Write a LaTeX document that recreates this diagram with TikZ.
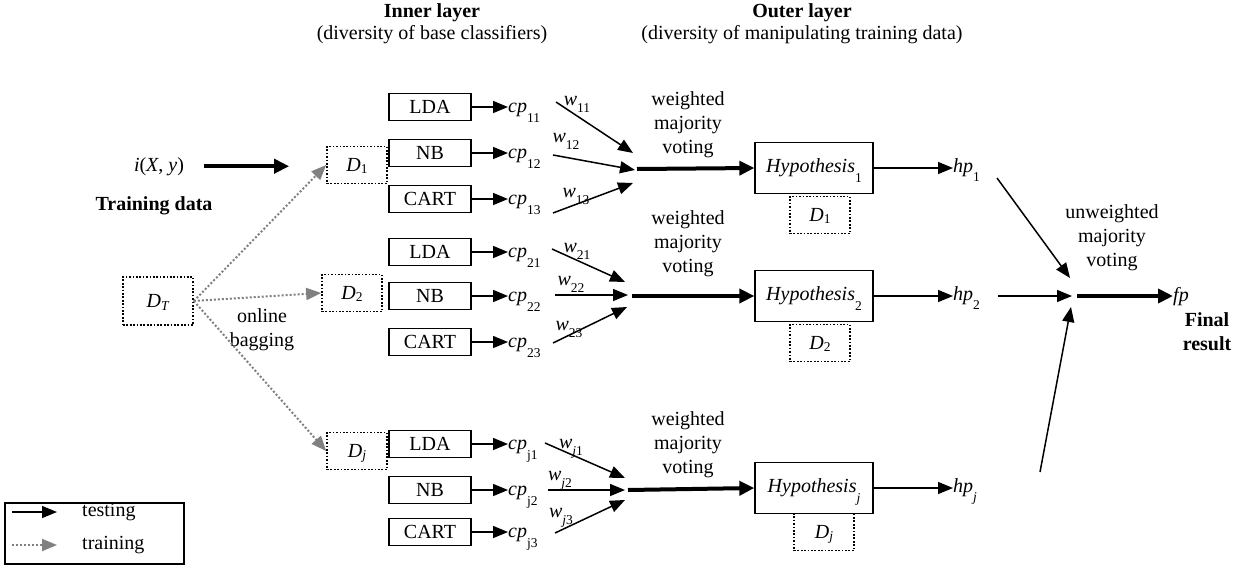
\documentclass[tikz,border=0pt]{standalone}
\usepackage{fontspec}
\setmainfont{Liberation Serif}
\usetikzlibrary{arrows.meta}
% lowered subscript that does not change the height of the line
\newcommand\lowsub[2]{\raisebox{#1}[0pt][0pt]{\fontsize{13.5}{14}\selectfont #2}}

\begin{document}
\begin{tikzpicture}[x=1pt, y=-1pt, font=\fontsize{20}{24}\selectfont,
  clf/.style={draw, line width=1.4pt, minimum width=82pt, minimum height=27pt, inner sep=0pt},
  dset/.style={draw, line width=1.7pt, dash pattern=on 1.7pt off 1.7pt, minimum width=60pt, minimum height=37pt, inner sep=0pt},
  hyp/.style={draw, line width=1.3pt, minimum width=118pt, minimum height=51pt, inner sep=0pt},
  txt/.style={inner sep=0pt, align=center},
  arr/.style={line width=1.5pt, -{Triangle[length=15pt,width=12pt]}},
  fat/.style={line width=4pt, -{Triangle[length=15pt,width=14pt]}},
  trn/.style={draw=gray, line width=2pt, dash pattern=on 2pt off 2pt, -{Triangle[length=15pt,width=12pt]}},
]
\useasboundingbox (0,0) rectangle (1241,570);

% headers
\node[txt, anchor=base] (innerT) at (432,17) {\textbf{Inner layer}};
\node[txt, anchor=base] (innerS) at (432,39) {(diversity of base classifiers)};
\node[txt, anchor=base] (outerT) at (802,17) {\textbf{Outer layer}};
\node[txt, anchor=base] (outerS) at (802,39) {(diversity of manipulating training data)};

% input and training data
\node[txt, anchor=base] (ixy) at (159,171) {\textit{i}(\textit{X}, \textit{y})};
\node[txt, anchor=base] (trdata) at (154,210) {\textbf{Training data}};
\node[dset, minimum width=70pt, minimum height=48pt] (DT) at (158,301) {\textit{D}\lowsub{-3pt}{\textit{T}}};
\node[txt] (bag) at (262,330) {online\\bagging};

% bootstrap data sets
\node[dset] (D1) at (357,165) {\textit{D}\lowsub{-1.5pt}{1}};
\node[dset] (D2) at (352,293) {\textit{D}\lowsub{-1.5pt}{2}};
\node[dset] (Dj) at (357,451) {\textit{D}\lowsub{-1.5pt}{\textit{j}}};

\draw[fat, shorten <=20pt, shorten >=37pt] (ixy.east) -- (ixy.east -| D1.west);
\draw[trn] (DT.east) -- (D1.west);
\draw[trn] (DT.east) -- (D2.west);
\draw[trn] (DT.east) -- (Dj.west);

% ---------- first ensemble ----------
\node[clf] (lda1) at (430,107) {LDA};
\node[clf] (nb1) at (430,153) {NB};
\node[clf] (cart1) at (430,199) {CART};
\node[txt, anchor=base west] (cp11) at (508,112) {\textit{cp}\lowsub{-10pt}{11}};
\node[txt, anchor=base west] (cp12) at (508,158) {\textit{cp}\lowsub{-10pt}{12}};
\node[txt, anchor=base west] (cp13) at (508,204) {\textit{cp}\lowsub{-10pt}{13}};
\draw[arr] (lda1.east) -- (lda1.east -| cp11.west);
\draw[arr] (nb1.east) -- (nb1.east -| cp12.west);
\draw[arr] (cart1.east) -- (cart1.east -| cp13.west);
\coordinate (s11) at (556,102); \coordinate (e11) at (633,153);
\coordinate (s12) at (553,155); \coordinate (e12) at (635,170);
\coordinate (s13) at (553,213); \coordinate (e13) at (633,183);
\draw[arr] (s11) -- (e11);
\draw[arr] (s12) -- (e12);
\draw[arr] (s13) -- (e13);
\node[txt, anchor=base] (w11) at (577,105) {\textit{w}\lowsub{-7pt}{11}};
\node[txt, anchor=base] (w12) at (566,142) {\textit{w}\lowsub{-7pt}{12}};
\node[txt, anchor=base] (w13) at (576,197) {\textit{w}\lowsub{-7pt}{13}};
\coordinate (m1) at (637,169);
\node[txt] (vote1) at (688,125) {weighted\\majority\\voting};
\node[hyp] (hyp1) at (814,168) {\textit{Hypothesis}\lowsub{-10pt}{1}};
\node[dset] (Dh1) at (820,215) {\textit{D}\lowsub{-1.5pt}{1}};
\draw[fat] (m1) -- (hyp1.west);
\node[txt, anchor=base west] (hp1) at (953,172) {\textit{hp}\lowsub{-9pt}{1}};
\draw[arr] (hyp1.east) -- (hyp1.east -| hp1.west);

% ---------- second ensemble ----------
\node[clf] (lda2) at (430,252) {LDA};
\node[clf] (nb2) at (430,296) {NB};
\node[clf] (cart2) at (430,342) {CART};
\node[txt, anchor=base west] (cp21) at (508,257) {\textit{cp}\lowsub{-10pt}{21}};
\node[txt, anchor=base west] (cp22) at (508,301) {\textit{cp}\lowsub{-10pt}{22}};
\node[txt, anchor=base west] (cp23) at (508,347) {\textit{cp}\lowsub{-10pt}{23}};
\draw[arr] (lda2.east) -- (lda2.east -| cp21.west);
\draw[arr] (nb2.east) -- (nb2.east -| cp22.west);
\draw[arr] (cart2.east) -- (cart2.east -| cp23.west);
\coordinate (s21) at (552,249); \coordinate (e21) at (625,282);
\coordinate (s22) at (555,295); \coordinate (e22) at (628,295);
\coordinate (s23) at (553,343); \coordinate (e23) at (627,307);
\draw[arr] (s21) -- (e21);
\draw[arr] (s22) -- (e22);
\draw[arr] (s23) -- (e23);
\node[txt, anchor=base] (w21) at (577,252) {\textit{w}\lowsub{-7pt}{21}};
\node[txt, anchor=base] (w22) at (571,285) {\textit{w}\lowsub{-7pt}{22}};
\node[txt, anchor=base] (w23) at (569,330) {\textit{w}\lowsub{-7pt}{23}};
\coordinate (m2) at (632,296);
\node[txt] (vote2) at (688,244) {weighted\\majority\\voting};
\node[hyp] (hyp2) at (814,296) {\textit{Hypothesis}\lowsub{-10pt}{2}};
\node[dset] (Dh2) at (820,343) {\textit{D}\lowsub{-1.5pt}{2}};
\draw[fat] (m2) -- (hyp2.west);
\node[txt, anchor=base west] (hp2) at (953,300) {\textit{hp}\lowsub{-9pt}{2}};
\draw[arr] (hyp2.east) -- (hyp2.east -| hp2.west);

% ---------- j-th ensemble ----------
\node[clf] (lda3) at (430,444) {LDA};
\node[clf] (nb3) at (430,490) {NB};
\node[clf] (cart3) at (430,532) {CART};
\node[txt, anchor=base west] (cpj1) at (508,449) {\textit{cp}\lowsub{-10pt}{j1}};
\node[txt, anchor=base west] (cpj2) at (508,495) {\textit{cp}\lowsub{-10pt}{j2}};
\node[txt, anchor=base west] (cpj3) at (508,537) {\textit{cp}\lowsub{-10pt}{j3}};
\draw[arr] (lda3.east) -- (lda3.east -| cpj1.west);
\draw[arr] (nb3.east) -- (nb3.east -| cpj2.west);
\draw[arr] (cart3.east) -- (cart3.east -| cpj3.west);
\coordinate (sj1) at (545,443); \coordinate (ej1) at (625,478);
\coordinate (sj2) at (548,490); \coordinate (ej2) at (625,490);
\coordinate (sj3) at (555,533); \coordinate (ej3) at (625,500);
\draw[arr] (sj1) -- (ej1);
\draw[arr] (sj2) -- (ej2);
\draw[arr] (sj3) -- (ej3);
\node[txt, anchor=base] (wj1) at (571,448) {\textit{w}\lowsub{-7pt}{\textit{j}1}};
\node[txt, anchor=base] (wj2) at (560,480) {\textit{w}\lowsub{-7pt}{\textit{j}2}};
\node[txt, anchor=base] (wj3) at (561,517) {\textit{w}\lowsub{-7pt}{\textit{j}3}};
\coordinate (mj) at (628,490);
\node[txt] (votej) at (688,445) {weighted\\majority\\voting};
\node[hyp] (hypj) at (814,488) {\textit{Hypothesis}\lowsub{-10pt}{\textit{j}}};
\node[dset] (Dhj) at (824,532) {\textit{D}\lowsub{-1.5pt}{\textit{j}}};
\draw[fat] (mj) -- (hypj.west);
\node[txt, anchor=base west] (hpj) at (953,492) {\textit{hp}\lowsub{-9pt}{\textit{j}}};
\draw[arr] (hypj.east) -- (hypj.east -| hpj.west);

% ---------- final combination ----------
\coordinate (f1s) at (997,178);  \coordinate (f1e) at (1070,278);
\coordinate (f2s) at (998,296);  \coordinate (f2e) at (1072,296);
\coordinate (fjs) at (1040,472); \coordinate (fje) at (1071,307);
\draw[arr] (f1s) -- (f1e);
\draw[arr] (f2s) -- (f2e);
\draw[arr] (fjs) -- (fje);
\coordinate (mf) at (1077,296);
\node[txt, anchor=base west] (fp) at (1173,301) {\textit{fp}};
\draw[fat] (mf) -- (mf -| fp.west);
\node[txt] (uvote) at (1112,238) {unweighted\\majority\\voting};
\node[txt, anchor=base] (final) at (1207,326) {\textbf{Final}};
\node[txt, anchor=base] (result) at (1207,350) {\textbf{result}};

% ---------- legend ----------
\node[draw, line width=1.3pt, minimum width=179pt, minimum height=61pt, inner sep=0pt] (legend) at (94.5,533.5) {};
\coordinate (lt1) at (12,512); \coordinate (lt2) at (57,512);
\coordinate (lr1) at (12,545); \coordinate (lr2) at (57,545);
\draw[arr] (lt1) -- (lt2);
\draw[trn] (lr1) -- (lr2);
\node[txt, anchor=west] (ltest) at (82,512) {testing};
\node[txt, anchor=west] (ltrain) at (82,545) {training};
\end{tikzpicture}
\end{document}
